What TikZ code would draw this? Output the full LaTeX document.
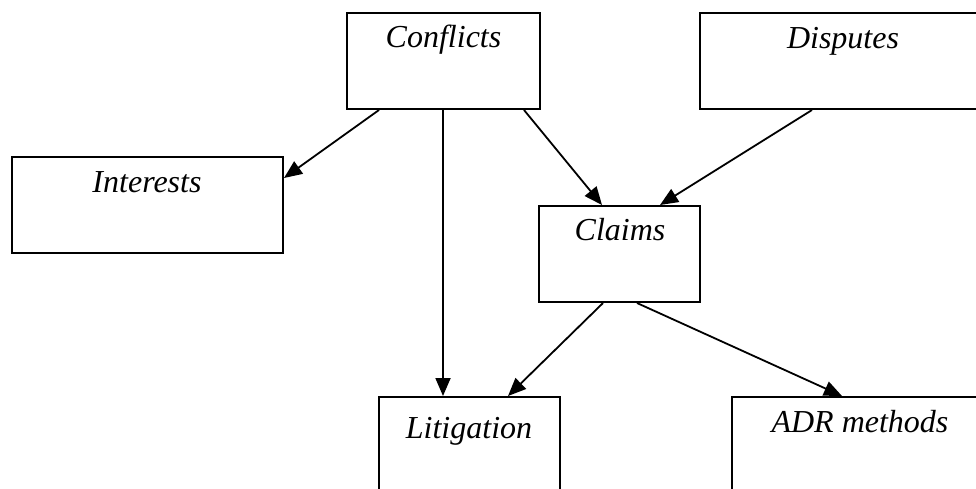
\documentclass[tikz,border=0pt]{standalone}
\usepackage{fontspec}
\setmainfont{Liberation Serif}
\usetikzlibrary{arrows.meta}
\tikzset{
  box/.style={draw=black, line width=2pt, fill=none, inner sep=0pt, rectangle},
  txt/.style={anchor=base, inner sep=0pt, font=\fontsize{32}{38}\selectfont\itshape},
  conn/.style={line width=1.8pt, -{Triangle[length=18pt,width=15pt]}}
}
\begin{document}
\begin{tikzpicture}[x=1pt,y=-1pt]
\clip (0,0) rectangle (976,488);
\fill[white] (0,0) rectangle (976,488);
% boxes
\node[box, minimum width=193pt, minimum height=96pt] (conf) at (443,61) {};
\node[box, minimum width=286pt, minimum height=96pt] (disp) at (843,61) {};
\node[box, minimum width=271pt, minimum height=96pt] (int) at (147.5,205) {};
\node[box, minimum width=161pt, minimum height=96pt] (claims) at (619.5,254) {};
\node[box, minimum width=181pt, minimum height=110pt] (lit) at (469,452) {};
\node[box, minimum width=256pt, minimum height=110pt] (adr) at (860,452) {};
% texts
\node[txt] (conft) at (443.5,47) {Conflicts};
\node[txt] (dispt) at (843,48) {Disputes};
\node[txt] (intt) at (147,192) {Interests};
\node[txt] (claimst) at (620,240) {Claims};
\node[txt] (litt) at (469,438) {Litigation};
\node[txt] (adrt) at (860,432) {ADR methods};
% connectors
\draw[conn] ([xshift=-64pt]conf.south) -- ([yshift=27pt]int.east);
\draw[conn] (conf.south) -- ([xshift=-26pt]lit.north);
\draw[conn] ([xshift=81pt]conf.south) -- ([xshift=-17.5pt]claims.north);
\draw[conn] ([xshift=-31pt]disp.south) -- ([xshift=40.5pt]claims.north);
\draw[conn] ([xshift=-16.5pt]claims.south) -- ([xshift=39pt]lit.north);
\draw[conn] ([xshift=17.5pt]claims.south) -- ([xshift=-18pt]adr.north);
\end{tikzpicture}
\end{document}
